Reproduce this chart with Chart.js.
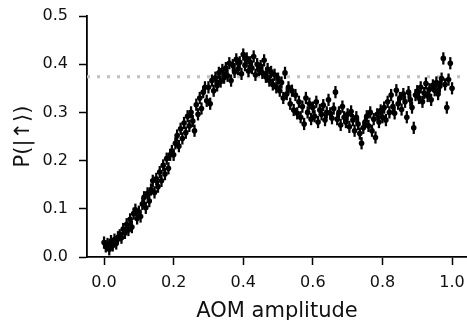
<!DOCTYPE html>
<html>
<head>
<meta charset="utf-8">
<script src="https://cdn.jsdelivr.net/npm/chart.js@4"></script>
<style>
  html, body { margin: 0; padding: 0; background: #fff; }
  #wrap { width: 467px; height: 320px; position: relative; }
</style>
</head>
<body>
<div id="wrap"><canvas id="chart"></canvas></div>
<script>
// AOM amplitude scan (x) and measured spin-up population (y)
const amplitudes = [
  0.000, 0.005, 0.010, 0.015, 0.020, 0.025, 0.030, 0.035, 0.040, 0.045,
  0.050, 0.055, 0.060, 0.065, 0.070, 0.075, 0.080, 0.085, 0.090, 0.095,
  0.100, 0.105, 0.110, 0.115, 0.120, 0.125, 0.130, 0.135, 0.140, 0.145,
  0.150, 0.155, 0.160, 0.165, 0.170, 0.175, 0.180, 0.185, 0.190, 0.195,
  0.200, 0.205, 0.210, 0.215, 0.220, 0.225, 0.230, 0.235, 0.240, 0.245,
  0.250, 0.255, 0.260, 0.265, 0.270, 0.275, 0.280, 0.285, 0.290, 0.295,
  0.300, 0.305, 0.310, 0.315, 0.320, 0.325, 0.330, 0.335, 0.340, 0.345,
  0.350, 0.355, 0.360, 0.365, 0.370, 0.375, 0.380, 0.385, 0.390, 0.395,
  0.400, 0.405, 0.410, 0.415, 0.420, 0.425, 0.430, 0.435, 0.440, 0.445,
  0.450, 0.455, 0.460, 0.465, 0.470, 0.475, 0.480, 0.485, 0.490, 0.495,
  0.500, 0.505, 0.510, 0.515, 0.520, 0.525, 0.530, 0.535, 0.540, 0.545,
  0.550, 0.555, 0.560, 0.565, 0.570, 0.575, 0.580, 0.585, 0.590, 0.595,
  0.600, 0.605, 0.610, 0.615, 0.620, 0.625, 0.630, 0.635, 0.640, 0.645,
  0.650, 0.655, 0.660, 0.665, 0.670, 0.675, 0.680, 0.685, 0.690, 0.695,
  0.700, 0.705, 0.710, 0.715, 0.720, 0.725, 0.730, 0.735, 0.740, 0.745,
  0.750, 0.755, 0.760, 0.765, 0.770, 0.775, 0.780, 0.785, 0.790, 0.795,
  0.800, 0.805, 0.810, 0.815, 0.820, 0.825, 0.830, 0.835, 0.840, 0.845,
  0.850, 0.855, 0.860, 0.865, 0.870, 0.875, 0.880, 0.885, 0.890, 0.895,
  0.900, 0.905, 0.910, 0.915, 0.920, 0.925, 0.930, 0.935, 0.940, 0.945,
  0.950, 0.955, 0.960, 0.965, 0.970, 0.975, 0.980, 0.985, 0.990, 0.995,
  1.000,
];

const pUp = [
  0.030, 0.022, 0.027, 0.016, 0.033, 0.024, 0.036, 0.028, 0.041, 0.045,
  0.040, 0.058, 0.050, 0.068, 0.056, 0.078, 0.062, 0.090, 0.098, 0.080,
  0.094, 0.084, 0.110, 0.124, 0.102, 0.132, 0.116, 0.140, 0.158, 0.134,
  0.162, 0.146, 0.176, 0.158, 0.190, 0.172, 0.204, 0.184, 0.212, 0.220,
  0.212, 0.236, 0.252, 0.230, 0.266, 0.246, 0.278, 0.258, 0.292, 0.272,
  0.300, 0.282, 0.262, 0.316, 0.296, 0.330, 0.308, 0.342, 0.352, 0.324,
  0.352, 0.318, 0.366, 0.345, 0.372, 0.356, 0.382, 0.364, 0.388, 0.372,
  0.392, 0.376, 0.402, 0.366, 0.398, 0.384, 0.410, 0.390, 0.404, 0.380,
  0.420, 0.398, 0.412, 0.386, 0.404, 0.392, 0.416, 0.378, 0.400, 0.388,
  0.396, 0.382, 0.408, 0.374, 0.390, 0.366, 0.384, 0.358, 0.378, 0.352,
  0.370, 0.345, 0.362, 0.330, 0.382, 0.338, 0.352, 0.318, 0.345, 0.305,
  0.336, 0.298, 0.322, 0.290, 0.312, 0.276, 0.330, 0.300, 0.318, 0.286,
  0.310, 0.292, 0.322, 0.280, 0.305, 0.296, 0.315, 0.284, 0.300, 0.326,
  0.298, 0.288, 0.308, 0.342, 0.286, 0.300, 0.274, 0.312, 0.290, 0.280,
  0.296, 0.270, 0.302, 0.284, 0.262, 0.290, 0.276, 0.256, 0.236, 0.268,
  0.280, 0.292, 0.272, 0.300, 0.262, 0.286, 0.248, 0.296, 0.280, 0.304,
  0.290, 0.310, 0.284, 0.322, 0.300, 0.336, 0.312, 0.298, 0.346, 0.318,
  0.330, 0.306, 0.338, 0.322, 0.290, 0.342, 0.326, 0.310, 0.268, 0.336,
  0.344, 0.330, 0.352, 0.322, 0.340, 0.360, 0.334, 0.348, 0.326, 0.356,
  0.346, 0.362, 0.338, 0.354, 0.370, 0.412, 0.358, 0.310, 0.368, 0.402,
  0.350,
];

const ERR = 0.012;          // error bar half-height
const REF_LEVEL = 0.374;    // dotted reference line
const X_RANGE = [-0.049, 1.043];
const xTicks = [0.0, 0.2, 0.4, 0.6, 0.8, 1.0];
const yTicks = [0.0, 0.1, 0.2, 0.3, 0.4, 0.5];

const FONT = 'DejaVu Sans';

const points = amplitudes.map((x, i) => ({ x, y: pUp[i] }));
const errBars = amplitudes.map((x, i) => ({ x, y: [pUp[i] - ERR, pUp[i] + ERR] }));

function axisStyle(ticks) {
  return {
    type: 'linear',
    offset: false,
    border: { display: true, color: '#000', width: 1.8 },
    grid: {
      drawOnChartArea: false,
      drawTicks: true,
      tickLength: 8,
      tickWidth: 1.5,
      tickColor: '#000',
      offset: false,
    },
    afterBuildTicks: s => { s.ticks = ticks.map(v => ({ value: v })); },
    ticks: {
      color: '#111',
      font: { family: FONT, size: 16 },
      callback: v => v.toFixed(1),
    },
  };
}

const xAxis = axisStyle(xTicks);
xAxis.min = X_RANGE[0];
xAxis.max = X_RANGE[1];
xAxis.ticks.padding = 8;
xAxis.ticks.maxRotation = 0;
xAxis.title = {
  display: true, text: 'AOM amplitude', color: '#111',
  font: { family: FONT, size: 21 }, padding: { top: 0, bottom: -4 },
};
xAxis.afterFit = s => {
  s.height = 63;
  s.paddingLeft = 0;
  s.paddingRight = 0;
};

const yAxis = axisStyle(yTicks);
yAxis.min = 0;
yAxis.max = 0.5;
yAxis.ticks.padding = 11;
yAxis.title = {
  display: true, text: 'P(|↑⟩)', color: '#111',
  font: { family: FONT, size: 21 }, padding: { top: 11, bottom: 0 },
};
yAxis.afterFit = s => {
  s.width = 87;
  s.paddingTop = 0;
  s.paddingBottom = 0;
};

new Chart(document.getElementById('chart'), {
  type: 'scatter',
  data: {
    datasets: [
      {
        type: 'line',
        data: [{ x: X_RANGE[0], y: REF_LEVEL }, { x: X_RANGE[1], y: REF_LEVEL }],
        borderColor: '#c0c0c0',
        borderWidth: 3,
        borderDash: [3, 7],
        pointRadius: 0,
        order: 3,
      },
      {
        type: 'bar',
        data: errBars,
        backgroundColor: '#000',
        borderWidth: 0,
        barThickness: 1.6,
        grouped: false,
        order: 2,
      },
      {
        type: 'scatter',
        data: points,
        backgroundColor: '#000',
        borderWidth: 0,
        pointRadius: 2.8,
        order: 1,
      },
    ],
  },
  options: {
    responsive: true,
    maintainAspectRatio: false,
    animation: false,
    layout: { autoPadding: false, padding: { top: 16, right: 0, bottom: 0, left: 0 } },
    plugins: {
      legend: { display: false },
      tooltip: { enabled: false },
    },
    scales: { x: xAxis, y: yAxis },
  },
});
</script>
</body>
</html>
